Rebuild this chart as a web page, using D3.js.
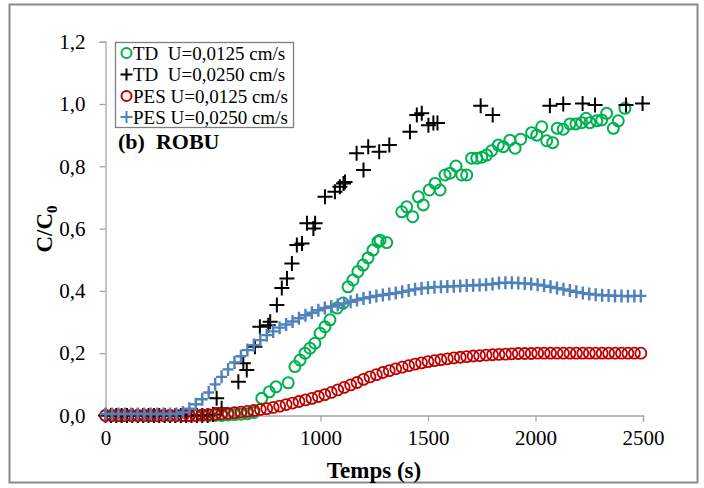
<!DOCTYPE html>
<html><head><meta charset="utf-8">
<script src="https://cdn.jsdelivr.net/npm/d3@7"></script>
<style>body{margin:0;background:#fff}svg{display:block}text{font-family:"Liberation Serif","Times New Roman",serif}</style>
</head><body>
<script>
// ---------- data ----------
const yTicks = [0, 0.2, 0.4, 0.6, 0.8, 1.0, 1.2];
const xTicks = [0, 500, 1000, 1500, 2000, 2500];
const seriesNames = ["TD  U=0,0125 cm/s", "TD  U=0,0250 cm/s", "PES U=0,0125 cm/s", "PES U=0,0250 cm/s"];

// TD U=0,0125 (green circles)
const tdSlowTime = [0,30,60,90,120,150,180,210,240,270,300,330,360,390,420,450,480,510,540,570,600,630,660,690,
  727,762,793,850,881,905,928,951,974,998,1021,1044,1077,1105,1128,1151,1174,1198,1221,1244,1267,1277,1308,
  1378,1401,1429,1455,1478,1506,1533,1556,1579,1602,1630,1657,1680,1703,1727,1750,1773,1796,1827,1850,1881,1905,1931,
  1982,2006,2029,2052,2080,2101,2129,2160,2188,2215,2235,2253,2285,2308,2331,2362,2385,2416];
const tdSlowValue = [0,0,0,0,0,0,0,0,0,0,0,0,0,0,0,0,0,0,0,0.002,0.003,0.004,0.006,0.01,
  0.055,0.076,0.092,0.105,0.157,0.178,0.2,0.216,0.232,0.264,0.285,0.307,0.345,0.361,0.413,0.435,0.462,0.483,0.506,0.531,0.558,0.563,0.555,
  0.654,0.67,0.638,0.702,0.676,0.724,0.745,0.724,0.772,0.778,0.801,0.772,0.772,0.826,0.826,0.829,0.836,0.85,0.868,0.863,0.884,0.858,0.887,
  0.908,0.9,0.927,0.882,0.876,0.922,0.919,0.936,0.936,0.94,0.954,0.94,0.946,0.949,0.97,0.922,0.946,0.986];

// TD U=0,0250 (black plus)
const tdFastTime = [0,25,50,75,100,125,150,175,200,225,250,275,300,325,350,375,400,425,450,475,500,
  517,540,618,641,657,695,718,757,766,797,820,844,867,890,914,937,967,975,1021,1067,1090,1107,1114,1168,1200,1222,1273,1320,
  1416,1448,1471,1502,1525,1544,1745,1801,2067,2129,2219,2277,2421,2498];
const tdFastValue = [0,0,0,0,0,0,0,0,0,0,0,0,0,0,0,0,0,0,0,0,0.003,
  0.055,0.023,0.108,0.168,0.146,0.221,0.285,0.29,0.301,0.355,0.409,0.44,0.488,0.547,0.552,0.617,0.6,0.617,0.702,0.718,0.734,0.745,0.75,0.842,0.788,0.863,0.847,0.868,
  0.911,0.965,0.97,0.932,0.939,0.939,0.994,0.965,0.994,1.0,1.002,0.997,0.997,1.002];

// PES (both series sampled every 30 s)
const pesTime = [0,30,60,90,120,150,180,210,240,270,300,330,360,390,420,450,480,510,540,570,600,630,660,690,720,750,780,810,840,870,
  900,930,960,990,1020,1050,1080,1110,1140,1170,1200,1230,1260,1290,1320,1350,1380,1410,1440,1470,1500,1530,1560,1590,1620,1650,1680,1710,1740,1770,
  1800,1830,1860,1890,1920,1950,1980,2010,2040,2070,2100,2130,2160,2190,2220,2250,2280,2310,2340,2370,2400,2430,2460,2490];
const pesSlowValue = [0,0,0,0,0,0,0,0,0,0,0,0,0,0,0,0.002,0.003,0.004,0.005,0.007,0.009,0.011,0.013,0.016,0.019,0.022,0.026,0.03,0.035,0.04,
  0.045,0.05,0.055,0.061,0.067,0.074,0.082,0.09,0.098,0.106,0.116,0.124,0.131,0.138,0.144,0.15,0.155,0.16,0.165,0.169,0.173,0.176,0.179,0.182,0.185,0.187,0.189,0.191,0.192,0.194,
  0.195,0.196,0.197,0.198,0.199,0.199,0.199,0.2,0.2,0.2,0.2,0.2,0.2,0.2,0.2,0.2,0.2,0.2,0.2,0.2,0.2,0.2,0.2,0.2];
const pesFastValue = [0.005,0.005,0.005,0.005,0.005,0.005,0.005,0.005,0.005,0.005,0.005,0.005,0.01,0.022,0.036,0.052,0.074,0.1,0.124,0.148,0.17,0.19,0.21,0.226,0.242,0.258,0.27,0.282,0.292,0.302,
  0.312,0.322,0.33,0.338,0.345,0.35,0.355,0.36,0.365,0.371,0.376,0.38,0.384,0.387,0.39,0.393,0.397,0.401,0.405,0.408,0.41,0.412,0.413,0.414,0.415,0.416,0.417,0.418,0.419,0.42,
  0.422,0.425,0.426,0.426,0.425,0.424,0.422,0.42,0.417,0.413,0.409,0.405,0.401,0.397,0.393,0.39,0.388,0.386,0.385,0.384,0.384,0.383,0.384,0.384];

// ---------- chart ----------
const W = 704, H = 488;
const svg = d3.select("body").append("svg").attr("width", W).attr("height", H);
svg.append("rect").attr("x", 9.5).attr("y", 4.5).attr("width", 688).attr("height", 478)
  .attr("fill", "#fff").attr("stroke", "#8a8a8a").attr("stroke-width", 2);

const x = d3.scaleLinear().domain([0, 2500]).range([105.5, 643]);
const y = d3.scaleLinear().domain([0, 1.2]).range([415.5, 41.7]);
const fmt = d => d3.format(".1f")(d).replace(".", ",");
const axisColor = "#a6a6a6";

const gx = svg.append("g").attr("transform", `translate(0,${y(0)})`)
  .call(d3.axisBottom(x).tickValues(xTicks).tickSize(6).tickPadding(9).tickFormat(d3.format("d")));
const gy = svg.append("g").attr("transform", `translate(${x(0)},0)`)
  .call(d3.axisLeft(y).tickValues(yTicks).tickSize(6).tickPadding(14).tickFormat(fmt));
[gx, gy].forEach(g => {
  g.select(".domain").attr("stroke", axisColor).attr("stroke-width", 1.3);
  g.selectAll(".tick line").attr("stroke", axisColor).attr("stroke-width", 1.3);
  g.selectAll(".tick text").attr("fill", "#000").style("font-size", "21px").style("font-family", '"Liberation Serif",serif');
});

// axis titles
svg.append("text").attr("x", 374).attr("y", 478).attr("text-anchor", "middle")
  .style("font-size", "23px").style("font-weight", "bold").text("Temps (s)");
const yt = svg.append("text").attr("transform", "translate(52,229) rotate(-90)").attr("text-anchor", "middle")
  .style("font-size", "23px").style("font-weight", "bold");
yt.append("tspan").text("C/C");
yt.append("tspan").attr("dy", 5).style("font-size", "15px").text("0");

// markers
const plot = svg.append("g");
function circles(ts, vs, color, r, sw) {
  plot.append("g").selectAll("circle").data(ts.map((t, i) => [t, vs[i]])).join("circle")
    .attr("cx", d => x(d[0])).attr("cy", d => y(d[1])).attr("r", r)
    .attr("fill", "none").attr("stroke", color).attr("stroke-width", sw);
}
function pluses(ts, vs, color, hw, hh, sw) {
  plot.append("g").selectAll("path").data(ts.map((t, i) => [t, vs[i]])).join("path")
    .attr("d", d => { const cx = x(d[0]), cy = y(d[1]);
      return `M${cx - hw},${cy}H${cx + hw}M${cx},${cy - hh}V${cy + hh}`; })
    .attr("fill", "none").attr("stroke", color).attr("stroke-width", sw);
}
const cGreen = "#00b050", cBlack = "#000", cRed = "#c00000", cBlue = "#4f81bd";
circles(tdSlowTime, tdSlowValue, cGreen, 5.5, 2);
pluses(tdFastTime, tdFastValue, cBlack, 7.5, 7.5, 2);
circles(pesTime, pesSlowValue, cRed, 5.5, 1.8);
pluses(pesTime, pesFastValue, cBlue, 5.5, 6.5, 2.4);

// legend
const lg = svg.append("g");
lg.append("rect").attr("x", 115.5).attr("y", 42.5).attr("width", 178).attr("height", 85)
  .attr("fill", "#fff").attr("stroke", "#7f7f7f").attr("stroke-width", 1.3);
const rowY = [53, 74.5, 96, 117];
const mk = [
  {type: "c", color: cGreen}, {type: "p", color: cBlack}, {type: "c", color: cRed}, {type: "p", color: cBlue}
];
seriesNames.forEach((name, i) => {
  const cy = rowY[i], cx = 126.5;
  if (mk[i].type === "c") lg.append("circle").attr("cx", cx).attr("cy", cy).attr("r", 5)
    .attr("fill", "none").attr("stroke", mk[i].color).attr("stroke-width", 2);
  else lg.append("path").attr("d", `M${cx - 6},${cy}H${cx + 6}M${cx},${cy - 6}V${cy + 6}`)
    .attr("stroke", mk[i].color).attr("stroke-width", 2);
  lg.append("text").attr("x", 133).attr("y", cy + 6.5).style("font-size", "19px")
    .style("white-space", "pre").attr("xml:space", "preserve").text(name);
});
svg.append("text").attr("x", 118).attr("y", 149).style("font-size", "22px").style("font-weight", "bold")
  .attr("xml:space", "preserve").style("white-space", "pre").text("(b)  ROBU");
</script>
</body></html>
